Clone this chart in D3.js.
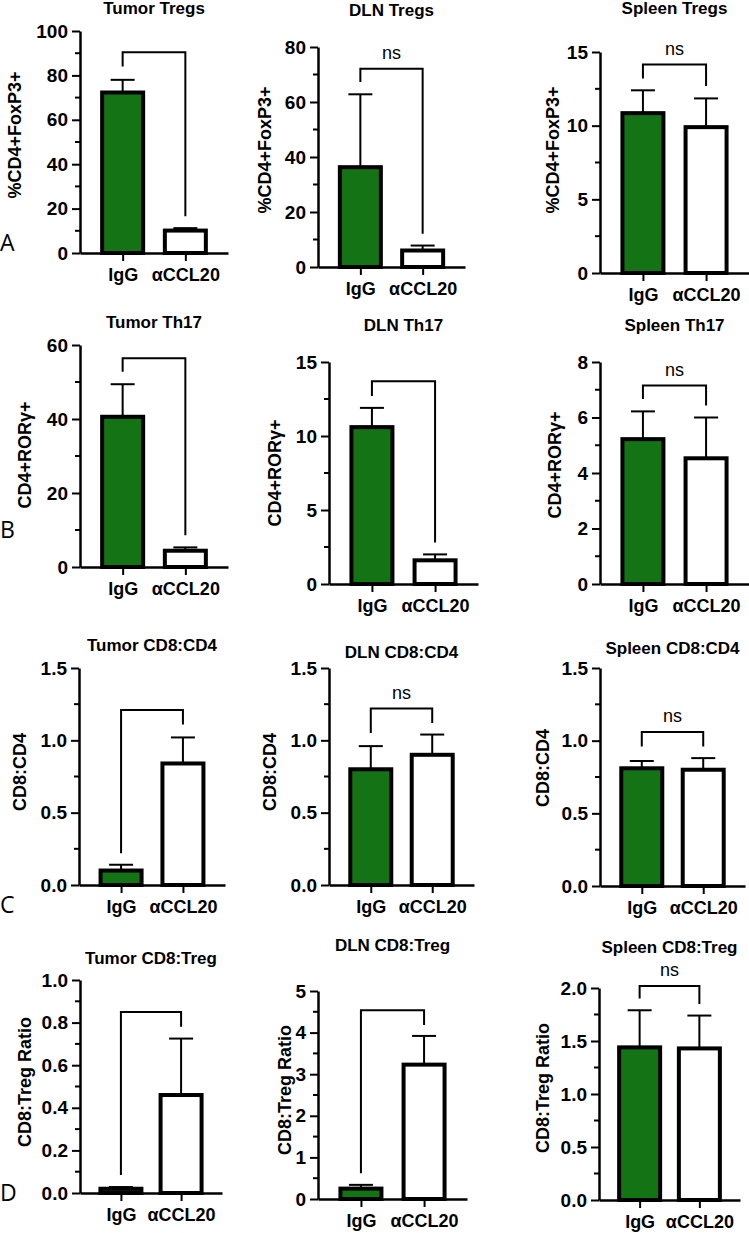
<!DOCTYPE html>
<html>
<head>
<meta charset="utf-8">
<script src="https://cdn.jsdelivr.net/npm/d3@7"></script>
<style>
  body { margin: 0; background: #fff; }
  svg { display: block; }
  text { font-family: "Liberation Sans", Arial, sans-serif; fill: #000; }
</style>
</head>
<body>
<svg id="fig" width="749" height="1233"></svg>
<script>
// ---- data ----
const groups = ['IgG', 'αCCL20'];
const rowLetters = ['A', 'B', 'C', 'D'];
const titles = [
  'Tumor Tregs', 'DLN Tregs', 'Spleen Tregs',
  'Tumor Th17', 'DLN Th17', 'Spleen Th17',
  'Tumor CD8:CD4', 'DLN CD8:CD4', 'Spleen CD8:CD4',
  'Tumor CD8:Treg', 'DLN CD8:Treg', 'Spleen CD8:Treg',
];
const yLabels = [
  '%CD4+FoxP3+', '%CD4+FoxP3+', '%CD4+FoxP3+',
  'CD4+RORγ+', 'CD4+RORγ+', 'CD4+RORγ+',
  'CD8:CD4', 'CD8:CD4', 'CD8:CD4',
  'CD8:Treg Ratio', 'CD8:Treg Ratio', 'CD8:Treg Ratio',
];
const yMax = [100, 80, 15, 60, 15, 8, 1.5, 1.5, 1.5, 1.0, 5, 2.0];
const yStep = [20, 20, 5, 20, 5, 2, 0.5, 0.5, 0.5, 0.2, 1, 0.5];
const tickFormats = ['d', 'd', 'd', 'd', 'd', 'd', '.1f', '.1f', '.1f', '.1f', 'd', '.1f'];
const means = [
  [72.3, 10.1], [36.3, 6.0], [10.85, 9.9],
  [40.6, 4.4], [10.6, 1.6], [5.22, 4.53],
  [0.1, 0.84], [0.8, 0.9], [0.81, 0.8],
  [0.02, 0.46], [0.25, 3.23], [1.44, 1.43],
];
const errTops = [
  [78, 11.2], [62.8, 7.8], [12.4, 11.85],
  [49.4, 5.3], [11.9, 2.0], [6.22, 6.0],
  [0.14, 1.02], [0.96, 1.04], [0.86, 0.88],
  [0.028, 0.725], [0.34, 3.92], [1.79, 1.74],
];
// bracket: [top, left leg end, right leg end]
const brackets = [
  [90.4, 84, 16.5], [72.1, 67.3, 12.1], [14.15, 13.2, 12.7],
  [56.4, 52.8, 8.6], [13.7, 12.7, 2.8], [7.15, 6.67, 6.43],
  [1.21, 0.22, 1.11], [1.22, 1.05, 1.12], [1.06, 0.96, 0.96],
  [0.85, 0.085, 0.78], [4.54, 0.62, 4.18], [2.02, 1.9, 1.85],
];
const bracketText = ['', 'ns', 'ns', '', '', 'ns', '', 'ns', 'ns', '', '', 'ns'];

// ---- layout of each panel (pixels) ----
const frames = [
  { x0: 80, x1: 228, yT: 31, yB: 253, ty: 8, lx: 15, ly: 135 },
  { x0: 318, x1: 465, yT: 47, yB: 267, ty: 10, lx: 265, ly: 150 },
  { x0: 600, x1: 749, yT: 52, yB: 273, ty: 8, lx: 553, ly: 150 },
  { x0: 80, x1: 228, yT: 345, yB: 567, ty: 322, lx: 25, ly: 455 },
  { x0: 329, x1: 478, yT: 362, yB: 584, ty: 325, lx: 275, ly: 473 },
  { x0: 600, x1: 749, yT: 362, yB: 584, ty: 325, lx: 555, ly: 465 },
  { x0: 79, x1: 225, yT: 668, yB: 885, ty: 645, lx: 20, ly: 772 },
  { x0: 329, x1: 474, yT: 668, yB: 885, ty: 652, lx: 270, ly: 772 },
  { x0: 600, x1: 745, yT: 668, yB: 886, ty: 648, lx: 543, ly: 768 },
  { x0: 80, x1: 222, yT: 980, yB: 1193, ty: 958, lx: 25, ly: 1082 },
  { x0: 318, x1: 467, yT: 991, yB: 1199, ty: 945, lx: 285, ly: 1090 },
  { x0: 599, x1: 740, yT: 988, yB: 1200, ty: 947, lx: 543, ly: 1088 },
];
const letterY = [243, 530, 905, 1193];

const green = '#147314';
const barW = 41;
const svg = d3.select('#fig');

frames.forEach((f, i) => {
  const g = svg.append('g').attr('class', 'panel');
  const y = d3.scaleLinear().domain([0, yMax[i]]).range([f.yB, f.yT]);
  const x = d3.scalePoint().domain(groups).range([f.x0, f.x1]).padding(0.68);

  // minor ticks
  const minor = d3.range(yStep[i] / 2, yMax[i], yStep[i]);
  g.append('g')
    .selectAll('line')
    .data(minor)
    .enter()
    .append('line')
    .attr('x1', f.x0 - 5)
    .attr('x2', f.x0)
    .attr('y1', d => y(d))
    .attr('y2', d => y(d))
    .attr('stroke', '#000')
    .attr('stroke-width', 2);

  // y axis
  const major = d3.range(0, yMax[i] + yStep[i] / 10, yStep[i]);
  const yAxis = g.append('g')
    .attr('transform', `translate(${f.x0},0)`)
    .call(d3.axisLeft(y).tickValues(major).tickFormat(d3.format(tickFormats[i]))
      .tickSize(8).tickSizeOuter(0).tickPadding(4));
  yAxis.selectAll('text').style('font-size', '19px');

  // x axis
  const xAxis = g.append('g')
    .attr('transform', `translate(0,${f.yB})`)
    .call(d3.axisBottom(x).tickSize(8).tickSizeOuter(0).tickPadding(7));
  xAxis.selectAll('text').style('font-size', '18px');

  [yAxis, xAxis].forEach((ax) => {
    ax.select('.domain').attr('stroke-width', 2.5);
    ax.selectAll('.tick line').attr('stroke-width', 2);
    ax.selectAll('text')
      .style('font-weight', 'bold')
      .style('font-family', '"Liberation Sans", Arial, sans-serif');
  });

  // error bars (upper only)
  const rows = groups.map((name, k) => ({ name, mean: means[i][k], top: errTops[i][k], k }));
  const err = g.append('g').selectAll('g').data(rows).enter().append('g');
  err.append('line')
    .attr('x1', d => x(d.name))
    .attr('x2', d => x(d.name))
    .attr('y1', d => y(d.mean))
    .attr('y2', d => y(d.top))
    .attr('stroke', '#000')
    .attr('stroke-width', 2);
  err.append('line')
    .attr('x1', d => x(d.name) - 12)
    .attr('x2', d => x(d.name) + 12)
    .attr('y1', d => y(d.top))
    .attr('y2', d => y(d.top))
    .attr('stroke', '#000')
    .attr('stroke-width', 2);

  // bars
  g.append('g')
    .selectAll('rect')
    .data(rows)
    .enter()
    .append('rect')
    .attr('x', d => x(d.name) - barW / 2)
    .attr('y', d => y(d.mean))
    .attr('width', barW)
    .attr('height', d => y(0) - y(d.mean))
    .attr('fill', d => (d.k === 0 ? green : '#fff'))
    .attr('stroke', '#000')
    .attr('stroke-width', 4);

  // significance bracket
  const b = brackets[i];
  g.append('path')
    .attr('d', `M${x(groups[0])},${y(b[1])}V${y(b[0])}H${x(groups[1])}V${y(b[2])}`)
    .attr('fill', 'none')
    .attr('stroke', '#000')
    .attr('stroke-width', 2);
  if (bracketText[i]) {
    g.append('text')
      .attr('x', (x(groups[0]) + x(groups[1])) / 2)
      .attr('y', y(b[0]) - 10)
      .attr('text-anchor', 'middle')
      .style('font-size', '18px')
      .text(bracketText[i]);
  }

  // title
  g.append('text')
    .attr('x', (f.x0 + f.x1) / 2)
    .attr('y', f.ty)
    .attr('dy', '0.35em')
    .attr('text-anchor', 'middle')
    .style('font-size', '17px')
    .style('font-weight', 'bold')
    .text(titles[i]);

  // y label
  g.append('text')
    .attr('transform', `translate(${f.lx},${f.ly})rotate(-90)`)
    .attr('dy', '0.35em')
    .attr('text-anchor', 'middle')
    .style('font-size', '18px')
    .style('font-weight', 'bold')
    .text(yLabels[i]);
});

svg.append('g')
  .selectAll('text')
  .data(rowLetters)
  .enter()
  .append('text')
  .attr('x', 0)
  .attr('y', (d, k) => letterY[k])
  .attr('dy', '0.35em')
  .style('font-family', '"Open Sans", sans-serif')
  .style('font-size', '23px')
  .text(d => d);
</script>
</body>
</html>
